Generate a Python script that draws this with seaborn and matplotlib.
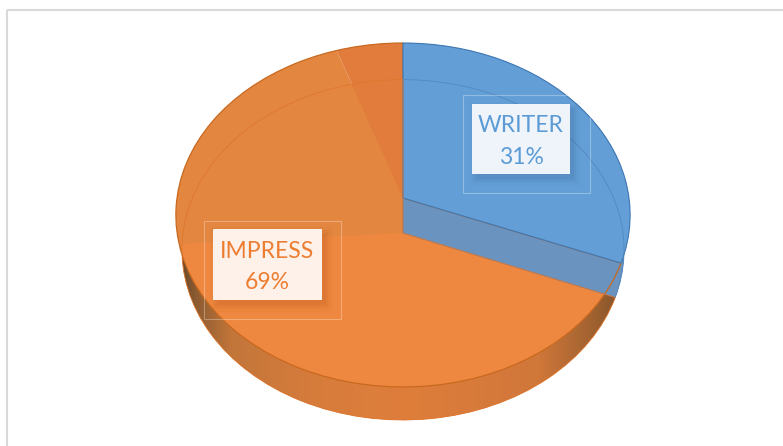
import numpy as np
import seaborn as sns
import matplotlib.pyplot as plt
import matplotlib.transforms as mtransforms
from matplotlib.colors import LinearSegmentedColormap
from matplotlib.patches import Rectangle

# Data
categories = ["WRITER", "IMPRESS"]
shares = [31, 69]
# the flat top face of the IMPRESS slice has two shades
top_shades = [31, 63.8, 5.2]
bottom_shades = [31, 43, 26]

blue = "#5b9bd5"
orange = "#ed7d31"

sns.set_theme(style="white")
plt.rcParams['font.family'] = ['Lato', 'DejaVu Sans']


# tilted disc: unit circle seen in perspective, the back is further away
class Tilt(mtransforms.Transform):
    input_dims = 2
    output_dims = 2

    def __init__(self, cx, cy, rx, ry, k=0.0988):
        super().__init__()
        self.cx, self.cy, self.rx, self.ry, self.k = cx, cy, rx, ry, k

    def transform_non_affine(self, values):
        u, v = np.asarray(values).T
        d = 1 + self.k * v
        return np.column_stack([self.cx + self.rx * u / d, self.cy - self.ry * v / d])


fig = plt.figure(figsize=(7.83, 4.46), dpi=100)
ax = fig.add_axes([0, 0, 1, 1])

top = Tilt(403, 198, 226, 170.3)
bottom = Tilt(403, 233, 220, 168.5)


def layer(values, colors, tilt, z, **props):
    wedges, _ = ax.pie(values, colors=colors, startangle=90, counterclock=False,
                       wedgeprops=props)
    for w in wedges:
        w.set_transform(tilt + ax.transData)
        w.set_zorder(z)
    return wedges


# side wall
wall = layer(shares, ["#2c5f95", "#d97c3a"], bottom, 1, linewidth=0)
wall_cmap = LinearSegmentedColormap.from_list("wall", [
    (0, "#5e4128"), (0.04, "#8a5a30"), (0.12, "#c2763a"), (0.3, "#d67c3c"),
    (0.5, "#df7e3b"), (0.8, "#d0773a"), (0.93, "#9c602f"), (1, "#7a4f2a")])
im = ax.imshow(np.linspace(0, 1, 256).reshape(1, -1), cmap=wall_cmap, aspect="auto",
               extent=(176, 630, 446, 0), zorder=1.5)
im.set_clip_path(wall[1])

# faces
face = layer(top_shades, [blue, "#e38640", "#e27c3c"], top, 2, linewidth=0)
layer(shares, ["#6a93bf", "none"], bottom, 3, linewidth=0)
light = layer(bottom_shades, ["none", "#ee873f", "none"], bottom, 4, linewidth=0)
light[1].set_clip_on(True)
light[1].set_clip_path(face[1])
rim = layer(shares, ["none", "none"], top, 5, fill=False, linewidth=0.9, edgecolor="#c8691f")
rim[0].set_visible(False)
front = layer(shares, ["#639fd6", "none"], top, 6, linewidth=0.8, edgecolor="#3f78b4")
front[1].set_visible(False)
for w, c in zip(layer(shares, ["none", "none"], bottom, 7, fill=False, linewidth=0.6), ["#5288c0", "#e0762d"]):
    w.set_edgecolor(c)

# Data labels
labels = [
    (categories[0], shares[0], blue, "#eff4fb", (472, 104, 98, 70), (463, 95, 127, 98)),
    (categories[1], shares[1], orange, "#fdf1ea", (213, 229, 109, 71), (204, 221, 137, 98)),
]
for name, share, color, fill, box, frame in labels:
    x, y, w, h = box
    shade = "#3f6f9f" if name == "WRITER" else "#b85a1c"
    for grow, alpha in zip([7, 4, 2, 0], [0.05, 0.07, 0.09, 0.12]):
        ax.add_patch(Rectangle((x + 4 - grow, y + 5 - grow), w + 2 * grow, h + 2 * grow,
                               facecolor=shade, edgecolor="none", alpha=alpha, zorder=8))
    ax.add_patch(Rectangle((frame[0], frame[1]), frame[2], frame[3], fill=False,
                           edgecolor="white", alpha=0.3, linewidth=0.8, zorder=8))
    ax.add_patch(Rectangle((x, y), w, h, facecolor=fill, edgecolor="none", zorder=9))
    ax.text(x + w / 2, y + h / 2 + 2.5, f"{name}\n{share}%", color=color, fontsize=16.5,
            ha="center", va="center", linespacing=1.6, zorder=10)

# chart area border
ax.add_patch(Rectangle((7, 10), 900, 600, fill=False, edgecolor="#d9d9d9", linewidth=1.5, zorder=0))

ax.set_aspect("auto")
ax.set_xlim(0, 783)
ax.set_ylim(446, 0)
ax.axis("off")

fig.savefig("out.png", dpi=100)
